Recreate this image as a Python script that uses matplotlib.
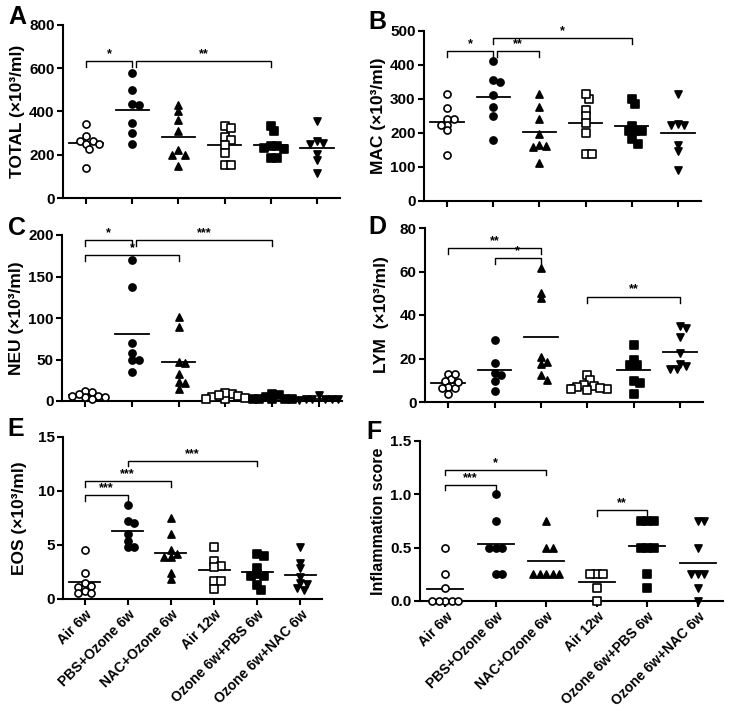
import numpy as np
import matplotlib
matplotlib.use('Agg')
import matplotlib.pyplot as plt

plt.rcParams['font.family'] = ['Liberation Sans', 'DejaVu Sans']
plt.rcParams['font.weight'] = 'bold'

groups = ['Air 6w', 'PBS+Ozone 6w', 'NAC+Ozone 6w', 'Air 12w',
          'Ozone 6w+PBS 6w', 'Ozone 6w+NAC 6w']

total = [[340, 285, 265, 265, 250, 225, 250, 140],
         [580, 500, 435, 430, 345, 300, 250],
         [400, 430, 360, 310, 200, 200, 220, 150],
         [332, 324, 283, 268, 245, 210, 154, 154],
         [309, 332, 240, 240, 225, 232, 185, 185],
         [355, 262, 250, 255, 205, 175, 115]]
mac = [[314, 274, 240, 242, 225, 225, 208, 134],
       [411, 350, 355, 311, 276, 249, 180],
       [316, 276, 242, 196, 162, 159, 164, 112],
       [301, 316, 269, 250, 229, 200, 137, 137],
       [300, 286, 222, 206, 206, 205, 181, 169],
       [316, 225, 223, 226, 164, 147, 90]]
neu = [[12, 11, 6, 5, 2, 5, 9, 6],
       [170, 137, 70, 58, 49, 49, 35],
       [101, 89, 46, 47, 32, 23, 22, 15],
       [8, 3, 5, 6, 3, 10, 4, 7],
       [7, 3, 2, 3, 3, 9, 5, 2],
       [3, 2, 1, 2, 3, 7, 2]]
lym = [[13, 10.5, 9.5, 13, 7, 6.5, 6.5, 3.8, 9],
       [28.5, 18, 12.5, 13.5, 9.5, 5.2],
       [61.5, 50.3, 47.7, 20.5, 18.5, 17.4, 12.3, 10.3],
       [12.5, 10, 8, 7.5, 6, 5.5, 7, 6, 6.5],
       [26, 19.5, 17, 17, 9.5, 8.8, 3.8],
       [35, 34, 30, 22.6, 16.6, 15, 15, 17.4]]
eos = [[4.5, 2.45, 1.5, 1.2, 1.1, 0.75, 0.6, 0.55],
       [8.7, 7.2, 7.05, 6.0, 5.4, 4.85, 4.85],
       [7.5, 6.0, 4.5, 3.85, 3.85, 4.15, 2.45, 1.85],
       [4.85, 3.5, 3.1, 2.95, 1.65, 1.65, 0.95],
       [4.15, 4.0, 2.9, 2.15, 2.15, 2.3, 0.8, 1.3],
       [4.8, 3.37, 2.85, 2.0, 1.47, 1.38, 0.86, 1.0]]
score = [[0.5, 0.25, 0.125, 0, 0, 0, 0, 0],
         [1.0, 0.75, 0.5, 0.5, 0.5, 0.25, 0.25],
         [0.75, 0.5, 0.5, 0.25, 0.25, 0.25, 0.25, 0.25],
         [0.25, 0.25, 0.25, 0.125, 0],
         [0.75, 0.75, 0.75, 0.5, 0.5, 0.5, 0.25, 0.125],
         [0.75, 0.75, 0.5, 0.25, 0.25, 0.25, 0.125, 0]]

# (group i, group j, height, label)
sig_a = [(0, 1, 633, '*'), (1, 4, 633, '**')]
sig_b = [(0, 1, 441, '*'), (1, 2, 441, '**'), (1, 4, 479, '*')]
sig_c = [(0, 1, 194, '*'), (1, 4, 194, '***'), (0, 2, 176, '*')]
sig_d = [(0, 2, 70.8, '**'), (1, 2, 66.2, '*'), (3, 5, 48.5, '**')]
sig_e = [(0, 1, 9.6, '***'), (0, 2, 10.9, '***'), (1, 4, 12.8, '***')]
sig_f = [(0, 1, 1.09, '***'), (0, 2, 1.23, '*'), (3, 4, 0.85, '**')]

markers = ['o', 'o', '^', 's', 's', 'v']
filled = [False, True, True, False, True, True]

W, H = 729, 711
fig = plt.figure(figsize=(W / 100, H / 100), dpi=100)


def rect(l, r, t, b):
    return [l / W, 1 - b / H, (r - l) / W, (b - t) / H]


def swarm(ax, vals, diam=6.5):
    vals = np.asarray(vals, float)
    tr = ax.transData
    ypx = tr.transform(np.column_stack([np.zeros(len(vals)), vals]))[:, 1]
    xunit = tr.transform([[1, 0]])[0, 0] - tr.transform([[0, 0]])[0, 0]
    offs = np.zeros(len(vals))
    placed = []
    step = diam * 0.5
    for i in np.argsort(-ypx):
        chosen = 0.0
        for k in range(30):
            cands = [0.0] if k == 0 else [k * step, -k * step]
            good = [c for c in cands
                    if all((c - px) ** 2 + (ypx[i] - py) ** 2 >= (diam * 0.85) ** 2
                           for px, py in placed)]
            if good:
                chosen = good[0]
                break
        placed.append((chosen, ypx[i]))
        offs[i] = chosen / xunit
    return offs


def panel(box, data, ylim, yticks, ylabel, letter, sigs, letter_xy,
          xlabels=False, yfmt=None, labelpad=4, ylsize=12.5):
    ax = fig.add_axes(rect(*box))
    ax.set_xlim(-0.5, 5.5)
    ax.set_ylim(*ylim)
    ax.set_yticks(yticks)
    if yfmt:
        ax.set_yticklabels([yfmt.format(t) for t in yticks])
    for s in ['top', 'right']:
        ax.spines[s].set_visible(False)
    for s in ['left', 'bottom']:
        ax.spines[s].set_linewidth(1.5)
    ax.tick_params(width=1.5, length=4, labelsize=11, pad=2)
    ax.set_xticks(range(6))
    if xlabels:
        ax.set_xticklabels(groups, rotation=45, ha='right',
                           rotation_mode='anchor', fontsize=10)
    else:
        ax.set_xticklabels([])
    ax.set_ylabel(ylabel, fontsize=ylsize, fontweight='bold', labelpad=labelpad)

    for g, vals in enumerate(data):
        offs = swarm(ax, vals)
        ax.scatter(g + offs, vals, s=26, marker=markers[g],
                   facecolors='black' if filled[g] else 'white',
                   edgecolors='black', linewidths=1.2, zorder=3, clip_on=False)
        m = np.mean(vals)
        ax.plot([g - 0.36, g + 0.36], [m, m], color='black', lw=1.3, zorder=2)

    span = ylim[1] - ylim[0]
    drop = span * 0.035
    ends = {(j, y) for i, j, y, t in sigs}
    for i, j, y, t in sigs:
        x1 = i + (0.08 if (i, y) in ends else 0)
        x2 = j
        ax.plot([x1, x1, x2, x2], [y - drop, y, y, y - drop], color='black',
                lw=1.0, clip_on=False)
        ax.text((x1 + x2) / 2, y + span * 0.005, t, ha='center', va='bottom',
                fontsize=9, fontweight='bold')

    fig.text(letter_xy[0] / W, 1 - letter_xy[1] / H, letter, fontsize=18,
             fontweight='bold', ha='left', va='top')
    return ax


panel((63, 340, 25, 198), total, (0, 800), [0, 200, 400, 600, 800],
      'TOTAL (×10³/ml)', 'A', sig_a, (8, 5), labelpad=3)
panel((424, 701, 31, 201), mac, (0, 500), [0, 100, 200, 300, 400, 500],
      'MAC (×10³/ml)', 'B', sig_b, (368, 10), labelpad=3)
panel((62, 342, 235, 401), neu, (0, 200), [0, 50, 100, 150, 200],
      'NEU (×10³/ml)', 'C', sig_c, (8, 216), labelpad=3)
panel((425, 703, 228, 402), lym, (0, 80), [0, 20, 40, 60, 80],
      'LYM  (×10³/ml)', 'D', sig_d, (368, 215), labelpad=8)
panel((63, 322, 437, 599), eos, (0, 15), [0, 5, 10, 15],
      'EOS (×10³/ml)', 'E', sig_e, (7, 417), xlabels=True, labelpad=8)
panel((420, 723, 441, 601), score, (0, 1.5), [0, 0.5, 1.0, 1.5],
      'Inflammation score', 'F', sig_f, (366, 420), xlabels=True,
      yfmt='{:.1f}', labelpad=3, ylsize=11.5)

fig.savefig('out.png', dpi=100)
